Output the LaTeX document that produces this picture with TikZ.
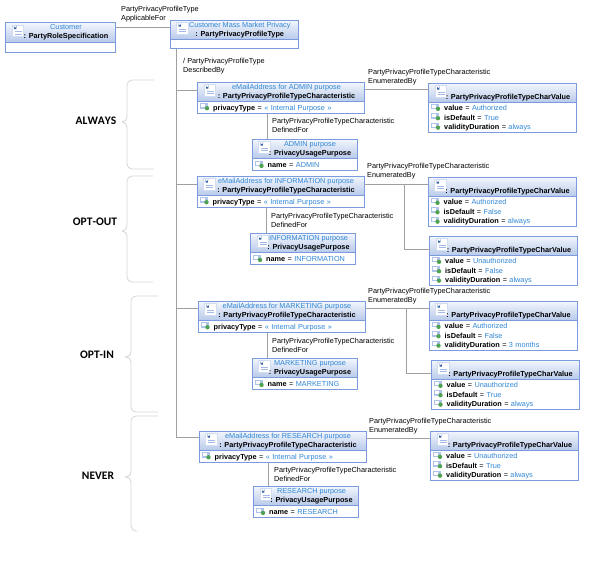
\documentclass[tikz,border=0pt]{standalone}
\usepackage{fontspec}
\setmainfont{Liberation Sans}
\newfontfamily\groupfont[Kerning=Off]{Carlito}
\usepackage{xcolor}
\usepackage{tikz}
\usetikzlibrary{positioning, calc}

\definecolor{boxblue}{HTML}{7C9BDE}
\definecolor{headtop}{HTML}{F4F7FD}
\definecolor{headbot}{HTML}{B7C9EA}
\definecolor{nameblue}{HTML}{2F86D6}
\definecolor{linkgray}{HTML}{A0A0A0}
\definecolor{bracegray}{HTML}{D4D4D4}
\definecolor{iconblue}{HTML}{2F62A8}
\definecolor{icongreen}{HTML}{4FA24F}

\newcommand{\hdrtxt}[2]{\hspace*{11pt}\textcolor{nameblue}{#1\rule{0pt}{5.5pt}}\\\hspace*{11pt}\textbf{: #2}}
\newcommand{\attr}[2]{\hspace*{2.5pt}\tikz[baseline=0pt,x=1pt,y=1pt]{%
  \fill[boxblue!60] (0,1.5) rectangle (8,7);
  \fill[white] (1,3) rectangle (5,6);
  \fill[icongreen] (7,2) circle (2.2pt);}%
  \hspace*{4pt}\textbf{#1} = \textcolor{nameblue}{#2}\\}

\begin{document}
\begin{tikzpicture}[x=1pt, y=-1pt,
  hdr/.style={draw=boxblue, line width=0.8pt, top color=headtop, bottom color=headbot,
              anchor=north west, inner sep=0pt, outer sep=0pt, align=center,
              minimum height=19.5pt, font=\fontsize{7.3}{8.6}\selectfont,
              path picture={
                \fill[white, draw=boxblue!35] ([shift={(6.5pt,-2.5pt)}]path picture bounding box.north west)
                  rectangle ++(11.5pt,-11.5pt);
                \fill[iconblue] ([shift={(8pt,-3.5pt)}]path picture bounding box.north west)
                  -- ++(1.8pt,-1.8pt) -- ++(1.8pt,1.8pt) -- ++(-0.7pt,0pt) -- ++(0pt,-3pt) -- ++(-2.2pt,0pt) -- ++(0pt,3pt) -- cycle;
                \draw[boxblue!70] ([shift={(9pt,-9pt)}]path picture bounding box.north west) -- ++(7pt,0pt);
                \draw[boxblue!70] ([shift={(9pt,-11.5pt)}]path picture bounding box.north west) -- ++(7pt,0pt);
              }},
  bdy/.style={draw=boxblue, line width=0.8pt, fill=white, inner sep=0pt, outer sep=0pt,
              align=left, font=\fontsize{7.3}{9.4}\selectfont},
  charhd/.style={hdr, minimum width=167pt},
  charbd/.style={bdy, text width=167pt, minimum height=12pt},
  usehd/.style={hdr, minimum width=105pt},
  usebd/.style={bdy, text width=105pt, minimum height=12pt},
  valhd/.style={hdr, minimum width=148pt},
  valbd/.style={bdy, text width=148pt, minimum height=30pt},
  lnk/.style={draw=linkgray, line width=0.8pt},
  lab/.style={anchor=north west, inner sep=0pt, align=left, font=\fontsize{7.3}{9.2}\selectfont},
  grp/.style={font=\groupfont\bfseries\fontsize{11.5}{12}\selectfont, inner sep=0pt},
  brc/.style={draw=bracegray, line width=0.8pt},
]
\useasboundingbox (0,0) rectangle (589,587);

% ---- Top classes -----------------------------------------------------------
\node[hdr, minimum width=110pt] (custH) at (5.5,22.5) {\hdrtxt{Customer}{PartyRoleSpecification}};
\node[bdy, text width=110pt, minimum height=10pt, below=0pt of custH] (custB) {};
\node[hdr, minimum width=128.5pt] (massH) at (170,20) {\hdrtxt{Customer Mass Market Privacy}{PartyPrivacyProfileType}};
\node[bdy, text width=128.5pt, minimum height=9pt, below=0pt of massH] (massB) {};

% ---- ADMIN -----------------------------------------------------------------
\node[charhd] (admH) at (197.5,82) {\hdrtxt{eMailAddress for ADMIN purpose}{PartyPrivacyProfileTypeCharacteristic}};
\node[charbd, below=0pt of admH] (admB) {\attr{privacyType}{« Internal Purpose »}};
\node[usehd] (admuH) at (252,139) {\hdrtxt{ADMIN purpose}{PrivacyUsagePurpose}};
\node[usebd, below=0pt of admuH] (admuB) {\attr{name}{ADMIN}};
\node[valhd] (v1H) at (428.5,83) {\hdrtxt{}{PartyPrivacyProfileTypeCharValue}};
\node[valbd, below=0pt of v1H] (v1B) {\attr{value}{Authorized}\attr{isDefault}{True}\attr{validityDuration}{always}};

% ---- INFORMATION -----------------------------------------------------------
\node[charhd] (infH) at (197,176) {\hdrtxt{eMailAddress for INFORMATION purpose}{PartyPrivacyProfileTypeCharacteristic}};
\node[charbd, below=0pt of infH] (infB) {\attr{privacyType}{« Internal Purpose »}};
\node[usehd] (infuH) at (250.5,233) {\hdrtxt{INFORMATION purpose}{PrivacyUsagePurpose}};
\node[usebd, below=0pt of infuH] (infuB) {\attr{name}{INFORMATION}};
\node[valhd] (v2H) at (428,177) {\hdrtxt{}{PartyPrivacyProfileTypeCharValue}};
\node[valbd, below=0pt of v2H] (v2B) {\attr{value}{Authorized}\attr{isDefault}{False}\attr{validityDuration}{always}};
\node[valhd] (v3H) at (429.5,236) {\hdrtxt{}{PartyPrivacyProfileTypeCharValue}};
\node[valbd, below=0pt of v3H] (v3B) {\attr{value}{Unauthorized}\attr{isDefault}{False}\attr{validityDuration}{always}};

% ---- MARKETING -------------------------------------------------------------
\node[charhd] (mktH) at (198,301) {\hdrtxt{eMailAddress for MARKETING purpose}{PartyPrivacyProfileTypeCharacteristic}};
\node[charbd, below=0pt of mktH] (mktB) {\attr{privacyType}{« Internal Purpose »}};
\node[usehd] (mktuH) at (252,358) {\hdrtxt{MARKETING purpose}{PrivacyUsagePurpose}};
\node[usebd, below=0pt of mktuH] (mktuB) {\attr{name}{MARKETING}};
\node[valhd] (v4H) at (429,301) {\hdrtxt{}{PartyPrivacyProfileTypeCharValue}};
\node[valbd, below=0pt of v4H] (v4B) {\attr{value}{Authorized}\attr{isDefault}{False}\attr{validityDuration}{3 months}};
\node[valhd] (v5H) at (431,360) {\hdrtxt{}{PartyPrivacyProfileTypeCharValue}};
\node[valbd, below=0pt of v5H] (v5B) {\attr{value}{Unauthorized}\attr{isDefault}{True}\attr{validityDuration}{always}};

% ---- RESEARCH --------------------------------------------------------------
\node[charhd] (resH) at (199,431) {\hdrtxt{eMailAddress for RESEARCH purpose}{PartyPrivacyProfileTypeCharacteristic}};
\node[charbd, below=0pt of resH] (resB) {\attr{privacyType}{« Internal Purpose »}};
\node[usehd] (resuH) at (253.5,486) {\hdrtxt{RESEARCH purpose}{PrivacyUsagePurpose}};
\node[usebd, below=0pt of resuH] (resuB) {\attr{name}{RESEARCH}};
\node[valhd] (v6H) at (430.5,431) {\hdrtxt{}{PartyPrivacyProfileTypeCharValue}};
\node[valbd, below=0pt of v6H] (v6B) {\attr{value}{Unauthorized}\attr{isDefault}{True}\attr{validityDuration}{always}};

% ---- Connectors ------------------------------------------------------------
\draw[lnk] (custH.east |- 0,27) -- (massH.west |- 0,27);
\coordinate (trunk) at (176.5,48);
\draw[lnk] (massB.south -| trunk) |- (resH.west |- 0,437);
\draw[lnk] (trunk |- 0,90) -- (admH.west |- 0,90);
\draw[lnk] (trunk |- 0,184) -- (infH.west |- 0,184);
\draw[lnk] (trunk |- 0,308) -- (mktH.west |- 0,308);

\draw[lnk] (admB.south -| 267,0) -- (admuH.north -| 267,0);
\draw[lnk] (infB.south -| 266,0) -- (infuH.north -| 266,0);
\draw[lnk] (mktB.south -| 267,0) -- (mktuH.north -| 267,0);
\draw[lnk] (resB.south -| 268,0) -- (resuH.north -| 268,0);

\draw[lnk] (admH.east |- 0,89) -- (v1H.west |- 0,89);
\draw[lnk] (infH.east |- 0,184) -- (v2H.west |- 0,184);
\coordinate (infsplit) at (404,184);
\draw[lnk] (infsplit) |- (v3H.west |- 0,249);
\draw[lnk] (mktH.east |- 0,308) -- (v4H.west |- 0,308);
\coordinate (mktsplit) at (406,308);
\draw[lnk] (mktsplit) |- (v5H.west |- 0,373);
\draw[lnk] (resH.east |- 0,438) -- (v6H.west |- 0,438);

% ---- Connector labels ------------------------------------------------------
\node[lab] (lApp) at (121,6) {PartyPrivacyProfileType\\ApplicableFor};
\node[lab] (lDesc) at (183,58) {/ PartyPrivacyProfileType\\DescribedBy};
\node[lab] (lEn1) at (368,69) {PartyPrivacyProfileTypeCharacteristic\\EnumeratedBy};
\node[lab] (lDf1) at (272,118) {PartyPrivacyProfileTypeCharacteristic\\DefinedFor};
\node[lab] (lEn2) at (367,163) {PartyPrivacyProfileTypeCharacteristic\\EnumeratedBy};
\node[lab] (lDf2) at (271,213) {PartyPrivacyProfileTypeCharacteristic\\DefinedFor};
\node[lab] (lEn3) at (368,288) {PartyPrivacyProfileTypeCharacteristic\\EnumeratedBy};
\node[lab] (lDf3) at (272,338) {PartyPrivacyProfileTypeCharacteristic\\DefinedFor};
\node[lab] (lEn4) at (369,418) {PartyPrivacyProfileTypeCharacteristic\\EnumeratedBy};
\node[lab] (lDf4) at (274,467) {PartyPrivacyProfileTypeCharacteristic\\DefinedFor};

% ---- Groups ----------------------------------------------------------------
\node[grp] (always) at (96,121) {ALWAYS};
\node[grp] (optout) at (95,222) {OPT-OUT};
\node[grp] (optin) at (97,355) {OPT-IN};
\node[grp] (never) at (98,476) {NEVER};

\draw[brc, rounded corners=5pt] (154,80) -- (127,80) -- (127,122) -- (122,122)
  (122,122) -- (127,122) -- (127,169) -- (154,169);
\draw[brc, rounded corners=5pt] (153,176) -- (127,176) -- (127,231) -- (122,231)
  (122,231) -- (127,231) -- (127,282) -- (153,282);
\draw[brc, rounded corners=5pt] (158,296) -- (131,296) -- (131,357) -- (127,357)
  (127,357) -- (131,357) -- (131,412) -- (158,412);
\draw[brc, rounded corners=5pt] (158,416) -- (131,416) -- (131,477) -- (127,477)
  (127,477) -- (131,477) -- (131,531) -- (135,531);
\end{tikzpicture}
\end{document}
